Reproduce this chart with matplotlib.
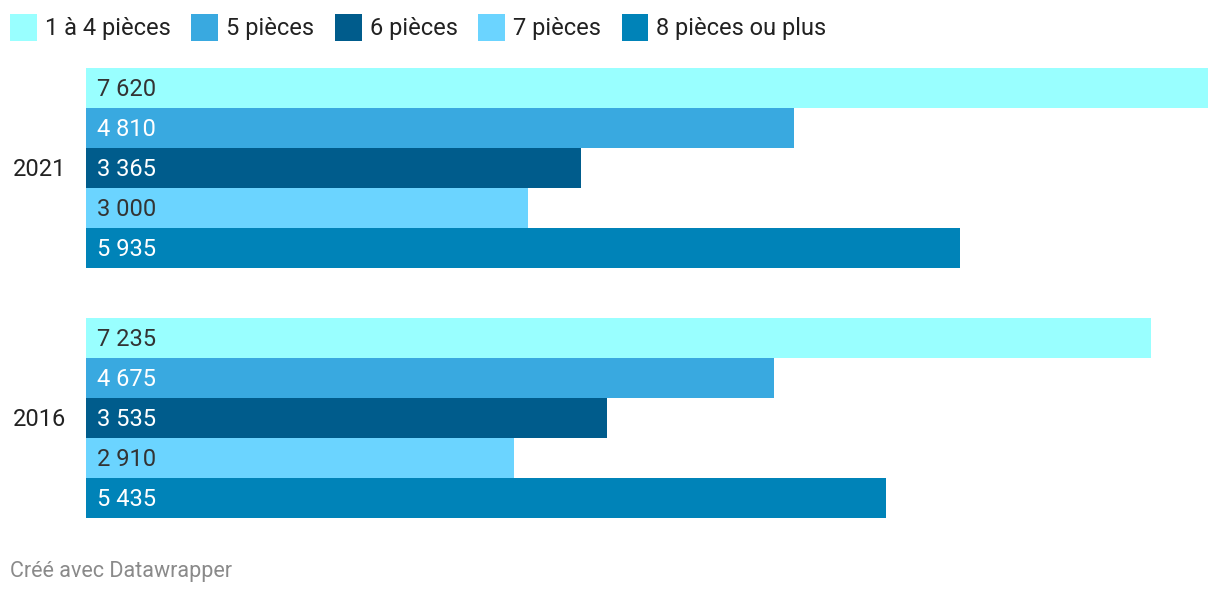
import matplotlib.pyplot as plt
import matplotlib.patches as mpatches

plt.rcParams['font.family'] = ['Roboto', 'DejaVu Sans']

years = ['2021', '2016']
categories = ['1 à 4 pièces', '5 pièces', '6 pièces', '7 pièces', '8 pièces ou plus']
values_2021 = [7620, 4810, 3365, 3000, 5935]
values_2016 = [7235, 4675, 3535, 2910, 5435]
colors = ['#99ffff', '#39a9e0', '#005c8c', '#6bd4ff', '#0083b8']
label_colors = ['#333333', 'white', 'white', '#333333', 'white']

W, H = 1220, 596
fig = plt.figure(figsize=(W / 100, H / 100), dpi=100)
fig.patch.set_facecolor('white')

# plot area in pixels: x 86..1208, y 68..518
ax = fig.add_axes([86 / W, (H - 518) / H, 1122 / W, 450 / H])
ax.set_xlim(0, 7620)
gap = 1.25
ax.set_ylim(5 * 2 + gap, 0)
ax.axis('off')

for g, vals in enumerate([values_2021, values_2016]):
    start = g * (5 + gap)
    for i, v in enumerate(vals):
        y = start + i + 0.5
        ax.barh(y, v, height=1.0, color=colors[i], linewidth=0)
        txt = f"{v:,}".replace(',', ' ')
        ax.annotate(txt, xy=(0, y), xytext=(8, -1.3), textcoords='offset points',
                    ha='left', va='center', fontsize=17, color=label_colors[i])
    ax.annotate(years[g], xy=(0, start + 2.5), xytext=(-14, -1.3),
                textcoords='offset points', ha='right', va='center',
                fontsize=17, color='#222222', annotation_clip=False)

# legend drawn by hand along the top
fig.canvas.draw()
renderer = fig.canvas.get_renderer()
x = 10
sq = 27
for name, c in zip(categories, colors):
    fig.patches.append(mpatches.Rectangle((x / W, (H - 41) / H), sq / W, sq / H,
                                          transform=fig.transFigure, facecolor=c,
                                          edgecolor='none', figure=fig))
    t = fig.text((x + sq + 8) / W, (H - 28.5) / H, name, ha='left', va='center',
                 fontsize=17, color='#222222')
    bb = t.get_window_extent(renderer=renderer)
    x = bb.x1 + 20.5

fig.text(10 / W, (H - 572) / H, 'Créé avec Datawrapper', ha='left', va='center',
         fontsize=15.5, color='#8a8a8a')

fig.savefig('out.png', dpi=100, facecolor='white')
